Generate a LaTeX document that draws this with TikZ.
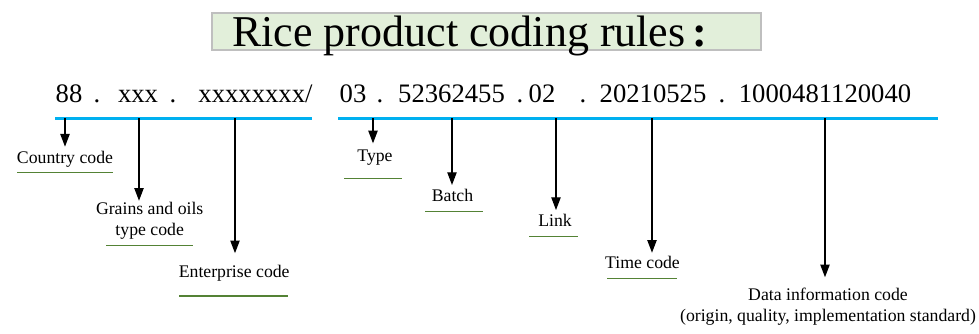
\documentclass[tikz,border=0pt]{standalone}
\usepackage{fontspec}
\setmainfont{Liberation Serif}
\usetikzlibrary{arrows.meta, positioning}
\definecolor{titlegreen}{HTML}{E2EFDA}
\definecolor{titlegray}{HTML}{BFBFBF}
\definecolor{codeblue}{HTML}{00B0F0}
\definecolor{lblgreen}{HTML}{548235}

\begin{document}
\begin{tikzpicture}[
    x=0.75pt, y=-0.75pt,
    >={Triangle[length=9.5pt, width=7pt]},
    titlebox/.style={rectangle, draw=titlegray, fill=titlegreen, line width=0.8pt, minimum width=411.75pt, minimum height=27.75pt, inner sep=0},
    code/.style={anchor=base, inner sep=0, font=\fontsize{20}{24}\selectfont},
    lbl/.style={anchor=north, inner sep=0, align=center, font=\fontsize{13.3}{15.5}\selectfont},
    bar/.style={draw=codeblue, line width=1.6pt},
    uline/.style={draw=lblgreen, line width=1.1pt},
    line/.style={->, line width=0.9pt, draw=black}
]
\useasboundingbox (0,0) rectangle (979,334);

% 1. 标题
\node[titlebox] (tbox) at (486.5,31.5) {};
\node[anchor=base west, inner sep=0, font=\fontsize{33}{36}\selectfont] (title) at (232,46.7) {Rice product coding rules\hspace{5pt}\textbf{:}};

% 2. 编码
\node[code] (cc) at (69,103) {88};
\node[code] (d1) at (97,103) {.};
\node[code] (gr) at (138,103) {xxx};
\node[code] (d2) at (173,103) {.};
\node[code] (ent) at (255.5,103) {xxxxxxxx/};
\node[code] (ty) at (353,103) {03};
\node[code] (d3) at (380,103) {.};
\node[code] (bat) at (451.5,103) {52362455};
\node[code] (d4) at (520,103) {.};
\node[code] (lnk) at (542,103) {02};
\node[code] (d5) at (583,103) {.};
\node[code] (tim) at (653,103) {20210525};
\node[code] (d6) at (722,103) {.};
\node[code] (dat) at (825,103) {1000481120040};

% 3. 蓝线
\draw[bar] (55,118.5) -- (312,118.5);
\draw[bar] (338,118.5) -- (938,118.5);

\coordinate (p1) at (65,118.5);
\coordinate (p2) at (139,118.5);
\coordinate (p3) at (235,118.5);
\coordinate (p4) at (373,118.5);
\coordinate (p5) at (452,118.5);
\coordinate (p6) at (556,118.5);
\coordinate (p7) at (652,118.5);
\coordinate (p8) at (825,118.5);

% 4. 说明
\node[lbl] (country) at (65,151.2) {Country code};
\node[lbl] (grains) at (149.7,202.2) {Grains and oils\\type code};
\node[lbl] (enterprise) at (234.2,265.2) {Enterprise code};
\node[lbl] (type) at (375,150) {Type};
\node[lbl] (batch) at (452.5,188.6) {Batch};
\node[lbl] (link) at (555,213.9) {Link};
\node[lbl] (time) at (642.5,256.2) {Time code};
\node[lbl] (data) at (828,287.9) {Data information code\\(origin, quality, implementation standard)};

% 连线
\draw[line, shorten >=3.4pt] (p1) -- (p1 |- country.north);
\draw[line, shorten >=1.1pt] (p2) -- (p2 |- grains.north);
\draw[line, shorten >=9pt] (p3) -- (p3 |- enterprise.north);
\draw[line, shorten >=5pt] (p4) -- (p4 |- type.north);
\draw[line, shorten >=2.7pt] (p5) -- (p5 |- batch.north);
\draw[line, shorten >=2.9pt] (p6) -- (p6 |- link.north);
\draw[line, shorten >=2.6pt] (p7) -- (p7 |- time.north);
\draw[line, shorten >=8pt] (p8) -- (p8 |- data.north);

% 下划线
\draw[uline] (17,172.3) -- (113,172.3);
\draw[uline] (106,245.7) -- (193,245.7);
\draw[uline] (179,296) -- (288,296);
\draw[uline] (344,178.3) -- (402,178.3);
\draw[uline] (425,211.7) -- (483,211.7);
\draw[uline] (529,236.7) -- (578,236.7);
\draw[uline] (607,278.3) -- (677,278.3);

\end{tikzpicture}
\end{document}
